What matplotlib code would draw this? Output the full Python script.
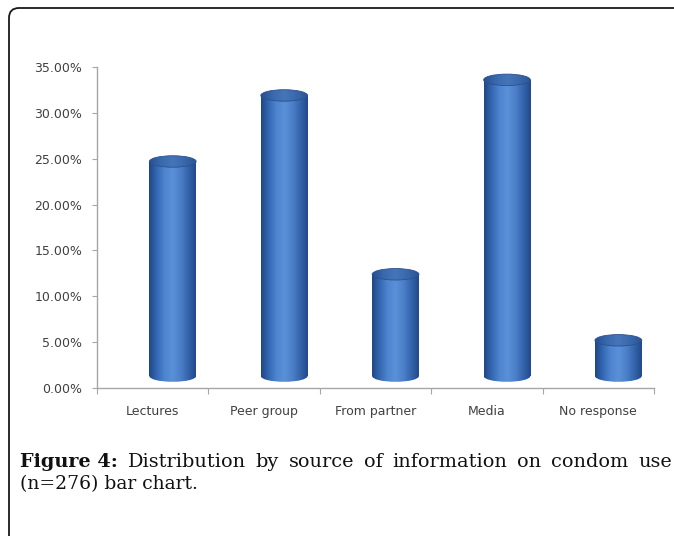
import numpy as np
import matplotlib
matplotlib.use("Agg")
import matplotlib.pyplot as plt
from matplotlib.patches import Rectangle, Ellipse, FancyBboxPatch
from matplotlib.colors import LinearSegmentedColormap
from matplotlib.ticker import FuncFormatter, FixedLocator
from matplotlib.transforms import IdentityTransform

categories = ["Lectures", "Peer group", "From partner", "Media", "No response"]
percent = [23.4, 30.6, 11.1, 32.3, 3.9]
y_ticks = [0, 5, 10, 15, 20, 25, 30, 35]

caption_bold = "Figure 4:"
caption_line1 = "Distribution by source of information on condom use"
caption_line2 = "(n=276) bar chart."

W, H = 674, 536
fig = plt.figure(figsize=(W / 100, H / 100), dpi=100)

# rounded frame running off the right and bottom edges
frame = FancyBboxPatch((9, -40), 760, 528 + 40, boxstyle="round,pad=0,rounding_size=10",
                       transform=IdentityTransform(), facecolor="none",
                       edgecolor="#1a1a1a", lw=1.3)
fig.add_artist(frame)

ax = fig.add_axes([97 / W, 1 - 388 / H, (654 - 97) / W, (388 - 67) / H])

body_cmap = LinearSegmentedColormap.from_list(
    "cyl", ["#1f4785", "#3468b3", "#4f85cf", "#5a90d8", "#4c81ca", "#3565ad", "#21498a"])
cap_cmap = LinearSegmentedColormap.from_list(
    "cap", ["#26508f", "#3a68ad", "#4775b8", "#3a68ad", "#2a5595"])

shift = 0.18     # cylinders sit a bit to the right and up (3d depth)
radius = 0.21
floor = 1.3
cap_h = 1.25
grad = np.linspace(0, 1, 256).reshape(1, -1)

for i, v in enumerate(percent):
    cx = i + shift
    x0, x1 = cx - radius, cx + radius
    top_y = floor + v
    body = Rectangle((x0, floor), 2 * radius, v, facecolor="none", edgecolor="none")
    ax.add_patch(body)
    im = ax.imshow(grad, cmap=body_cmap, extent=(x0, x1, floor - cap_h, top_y),
                   aspect="auto", interpolation="bilinear", zorder=2)
    im.set_clip_path(body)
    base = Ellipse((cx, floor), 2 * radius, cap_h, facecolor="none", edgecolor="none")
    ax.add_patch(base)
    im2 = ax.imshow(grad, cmap=body_cmap, extent=(x0, x1, floor - cap_h, floor + cap_h),
                    aspect="auto", interpolation="bilinear", zorder=2)
    im2.set_clip_path(base)
    top = Ellipse((cx, top_y), 2 * radius, cap_h, facecolor="none", edgecolor="none")
    ax.add_patch(top)
    im3 = ax.imshow(grad, cmap=cap_cmap, extent=(x0, x1, top_y - cap_h, top_y + cap_h),
                    aspect="auto", interpolation="bilinear", zorder=3)
    im3.set_clip_path(top)
    ax.add_patch(Ellipse((cx, top_y), 2 * radius, cap_h, facecolor="none",
                         edgecolor="#2a5190", lw=0.6, zorder=4))

ax.set_xlim(-0.5, len(categories) - 0.5)
ax.set_ylim(0, 35)

for s in ["top", "right"]:
    ax.spines[s].set_visible(False)
for s in ["left", "bottom"]:
    ax.spines[s].set_color("#a6a6a6")
    ax.spines[s].set_linewidth(1.0)

ax.set_yticks(y_ticks)
ax.yaxis.set_major_formatter(FuncFormatter(lambda v, p: f"{v:.2f}%"))
ax.tick_params(axis="y", length=3.5, width=0.8, color="#a6a6a6", pad=7,
               labelsize=9, labelcolor="#404040")

ax.set_xticks(range(len(categories)))
ax.set_xticklabels(categories)
ax.xaxis.set_minor_locator(FixedLocator(np.arange(-0.5, len(categories), 1.0)))
ax.tick_params(axis="x", which="major", length=0, pad=12, labelsize=9, labelcolor="#404040")
ax.tick_params(axis="x", which="minor", length=4, width=0.8, color="#a6a6a6")

# caption, first line justified
fig.canvas.draw()
r = fig.canvas.get_renderer()
left, right = 20, 672
y1, y2 = 467, 489
pieces = [(caption_bold, "bold")] + [(w, "normal") for w in caption_line1.split()]
texts = []
for word, weight in pieces:
    t = fig.text(0, 1 - y1 / H, word, family="DejaVu Serif", fontsize=13.9,
                 fontweight=weight, va="baseline", ha="left", color="#111111")
    texts.append(t)
widths = [t.get_window_extent(r).width for t in texts]
gap = (right - left - sum(widths)) / (len(texts) - 1)
x = left
for t, w in zip(texts, widths):
    t.set_x(x / W)
    x += w + gap
fig.text(left / W, 1 - y2 / H, caption_line2, family="DejaVu Serif", fontsize=13.5,
         va="baseline", ha="left", color="#111111")

fig.savefig("out.png", dpi=100)
